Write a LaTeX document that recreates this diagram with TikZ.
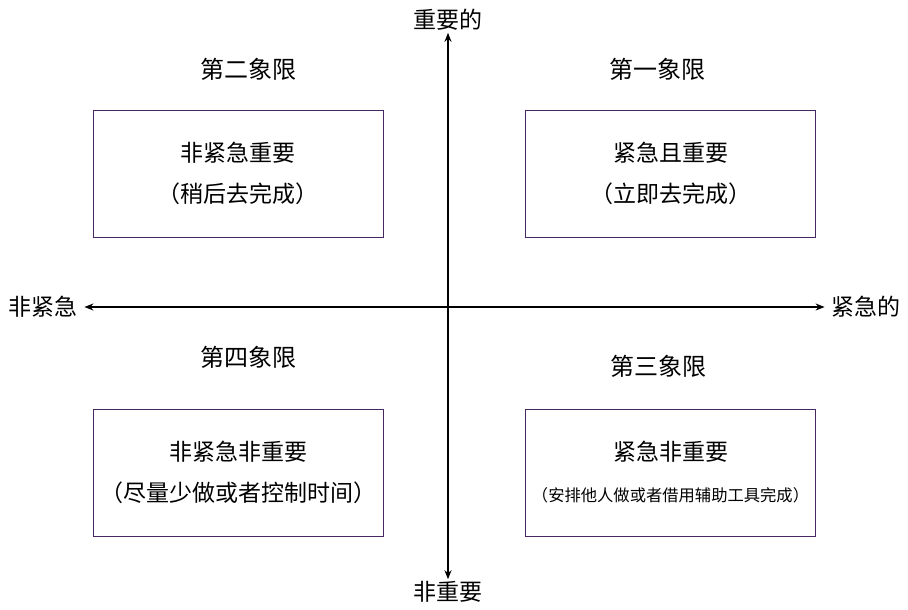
\documentclass[tikz,border=0pt]{standalone}
\usepackage{fontspec}
\setmainfont{Noto Sans CJK SC}
\usepackage{tikz}
\usetikzlibrary{arrows.meta, positioning}

\begin{document}
\begin{tikzpicture}[
  x=1pt, y=-1pt,
  execute at begin picture={
    \definecolor{quadpurple}{RGB}{72,40,96}
  },
  >={Stealth[length=9pt, width=7pt]},
  quadbox/.style={
    draw=quadpurple,
    line width=0.9pt,
    minimum width=290pt,
    minimum height=127pt,
    align=center,
    font=\fontsize{23}{41}\selectfont
  },
  title/.style={font=\fontsize{24}{26}\selectfont},
  axislabel/.style={font=\fontsize{23}{25}\selectfont, inner xsep=7pt, inner ysep=2pt},
  axis/.style={<->, line width=1.6pt}
]
\useasboundingbox (0,0) rectangle (908,610);

% axes
\node[axislabel] (important) at (448,20) {重要的};
\node[axislabel] (unimportant) at (448,592) {非重要};
\node[axislabel, anchor=west] (noturgent) at (1,307) {非紧急};
\node[axislabel, anchor=east] (urgent) at (908,307) {紧急的};

\draw[axis] (important) -- (unimportant);
\draw[axis] (noturgent) -- (urgent);

% quadrant titles
\node[title] (t2) at (248,69) {第二象限};
\node[title] (t1) at (657,69) {第一象限};
\node[title] (t4) at (248,357) {第四象限};
\node[title] (t3) at (658,366) {第三象限};

% quadrant boxes
\node[quadbox] (q2) at (238,173.5) {非紧急重要\\（稍后去完成）};
\node[quadbox] (q1) at (670.5,173.5) {紧急且重要\\（立即去完成）};
\node[quadbox] (q4) at (238,472.5) {非紧急非重要\\（尽量少做或者控制时间）};
\node[quadbox] (q3) at (670.5,472.5)
  {紧急非重要\\{\fontsize{16.3}{41}\selectfont （安排他人做或者借用辅助工具完成）}};

\end{tikzpicture}
\end{document}
